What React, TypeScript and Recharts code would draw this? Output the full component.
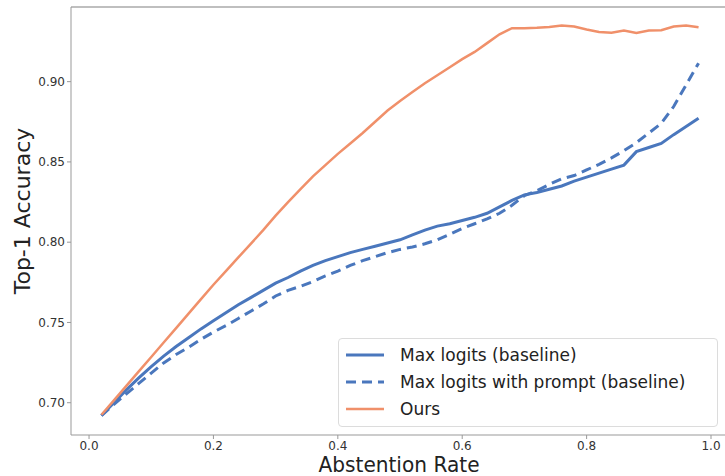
import { LineChart, Line, XAxis, YAxis, Legend, Label, ReferenceLine } from "recharts"

const rates = [
  0.02, 0.04, 0.06, 0.08, 0.1, 0.12, 0.14, 0.16, 0.18, 0.2,
  0.22, 0.24, 0.26, 0.28, 0.3, 0.32, 0.34, 0.36, 0.38, 0.4,
  0.42, 0.44, 0.46, 0.48, 0.5, 0.52, 0.54, 0.56, 0.58, 0.6,
  0.62, 0.64, 0.66, 0.68, 0.7, 0.72, 0.74, 0.76, 0.78, 0.8,
  0.82, 0.84, 0.86, 0.88, 0.9, 0.92, 0.94, 0.96, 0.98,
]

const maxLogits = [
  0.692, 0.7, 0.708, 0.7155, 0.7225, 0.729, 0.735, 0.7405, 0.746, 0.751,
  0.756, 0.761, 0.7655, 0.77, 0.7745, 0.778, 0.782, 0.7855, 0.7885, 0.791,
  0.7935, 0.7955, 0.7975, 0.7995, 0.8015, 0.8045, 0.8075, 0.81, 0.8115, 0.8135,
  0.8155, 0.818, 0.822, 0.826, 0.8295, 0.831, 0.833, 0.835, 0.838, 0.8405,
  0.843, 0.8455, 0.848, 0.8564, 0.859, 0.8615, 0.867, 0.872, 0.8772,
]

const maxLogitsPrompt = [
  0.692, 0.699, 0.7055, 0.712, 0.7185, 0.7248, 0.73, 0.7345, 0.7395, 0.744,
  0.748, 0.7525, 0.757, 0.7615, 0.7665, 0.77, 0.7725, 0.7755, 0.779, 0.782,
  0.7855, 0.7885, 0.791, 0.7935, 0.7955, 0.797, 0.799, 0.8015, 0.805, 0.8085,
  0.8115, 0.8145, 0.818, 0.823, 0.829, 0.832, 0.836, 0.8395, 0.8415, 0.845,
  0.8485, 0.8525, 0.857, 0.862, 0.868, 0.874, 0.8845, 0.898, 0.9115,
]

const ours = [
  0.6925, 0.7015, 0.7105, 0.7195, 0.7285, 0.7375, 0.7465, 0.7555, 0.7645, 0.7735,
  0.782, 0.7905, 0.799, 0.8075, 0.8165, 0.825, 0.833, 0.841, 0.848, 0.855,
  0.8615, 0.868, 0.875, 0.882, 0.888, 0.8935, 0.899, 0.904, 0.909, 0.914,
  0.9185, 0.924, 0.9295, 0.9333, 0.9333, 0.9335, 0.934, 0.9349, 0.9343, 0.9325,
  0.931, 0.9305, 0.9318, 0.9303, 0.9318, 0.932, 0.9343, 0.9349, 0.9339,
]

const xTicks = [0, 0.2, 0.4, 0.6, 0.8, 1.0]
const yTicks = [0.7, 0.75, 0.8, 0.85, 0.9]

const X_DOMAIN = [-0.029, 1.0225]
const Y_DOMAIN = [0.6799, 0.9465]

const BLUE = "#4a77bd"
const ORANGE = "#f0906a"
const FONT = "DejaVu Sans, sans-serif"

const data = rates.map((r, i) => ({
  rate: r,
  base: maxLogits[i],
  prompt: maxLogitsPrompt[i],
  ours: ours[i],
}))

const legendItems = [
  { label: "Max logits (baseline)", color: BLUE, dash: undefined, width: 3 },
  { label: "Max logits with prompt (baseline)", color: BLUE, dash: "10 6", width: 3 },
  { label: "Ours", color: ORANGE, dash: undefined, width: 2.5 },
]

const LegendBox = () => (
  <div
    style={{
      border: "1px solid #dcdcdc",
      borderRadius: 4,
      background: "rgba(255,255,255,0.85)",
      padding: "3px 0 4px 6px",
      boxSizing: "border-box",
      width: 380,
      fontFamily: FONT,
      fontSize: 17,
      color: "#222",
      textAlign: "left",
    }}
  >
    {legendItems.map((it) => (
      <div key={it.label} style={{ display: "flex", alignItems: "center", height: 26.7 }}>
        <svg width={40} height={10}>
          <line x1={1} y1={5} x2={39} y2={5} stroke={it.color} strokeWidth={it.width} strokeDasharray={it.dash} />
        </svg>
        <span style={{ marginLeft: 15, whiteSpace: "nowrap" }}>{it.label}</span>
      </div>
    ))}
  </div>
)

const fmtX = (v: number) => v.toFixed(1)
const fmtY = (v: number) => v.toFixed(2)

export default function App() {
  return (
    <div style={{ position: "absolute", left: 0, top: 0, width: 725, height: 476, overflow: "hidden", background: "#fff" }}>
      <LineChart width={725} height={476} data={data} margin={{ top: 7, right: 0, left: 0, bottom: 0 }}>
        <XAxis
          dataKey="rate"
          type="number"
          domain={X_DOMAIN}
          allowDataOverflow
          ticks={xTicks}
          tickFormatter={fmtX}
          height={41}
          stroke="#999"
          tickSize={4}
          tick={{ fill: "#333", fontSize: 12, fontFamily: FONT }}
        >
          <Label
            content={() => (
              <text x={399} y={472} textAnchor="middle" fontFamily={FONT} fontSize={21} fill="#222" textLength={161} lengthAdjust="spacingAndGlyphs">
                Abstention Rate
              </text>
            )}
          />
        </XAxis>
        <YAxis
          type="number"
          domain={Y_DOMAIN}
          allowDataOverflow
          ticks={yTicks}
          tickFormatter={fmtY}
          width={71}
          stroke="#999"
          tickSize={4}
          tick={{ fill: "#333", fontSize: 12, fontFamily: FONT }}
        >
          <Label
            content={() => (
              <text x={30} y={211} textAnchor="middle" fontFamily={FONT} fontSize={22} fill="#222" transform="rotate(-90 30 211)">
                Top-1 Accuracy
              </text>
            )}
          />
        </YAxis>
        <ReferenceLine y={Y_DOMAIN[1]} stroke="#aaa" strokeWidth={1.5} />
        <Line dataKey="base" stroke={BLUE} strokeWidth={3} dot={false} isAnimationActive={false} />
        <Line dataKey="prompt" stroke={BLUE} strokeWidth={3} strokeDasharray="10 6" dot={false} isAnimationActive={false} />
        <Line dataKey="ours" stroke={ORANGE} strokeWidth={2.5} dot={false} isAnimationActive={false} />
        <Legend
          layout="horizontal"
          verticalAlign="middle"
          align="center"
          content={<LegendBox />}
          wrapperStyle={{ position: "absolute", left: 338, top: 338, width: 380, height: 89 }}
        />
      </LineChart>
    </div>
  )
}
